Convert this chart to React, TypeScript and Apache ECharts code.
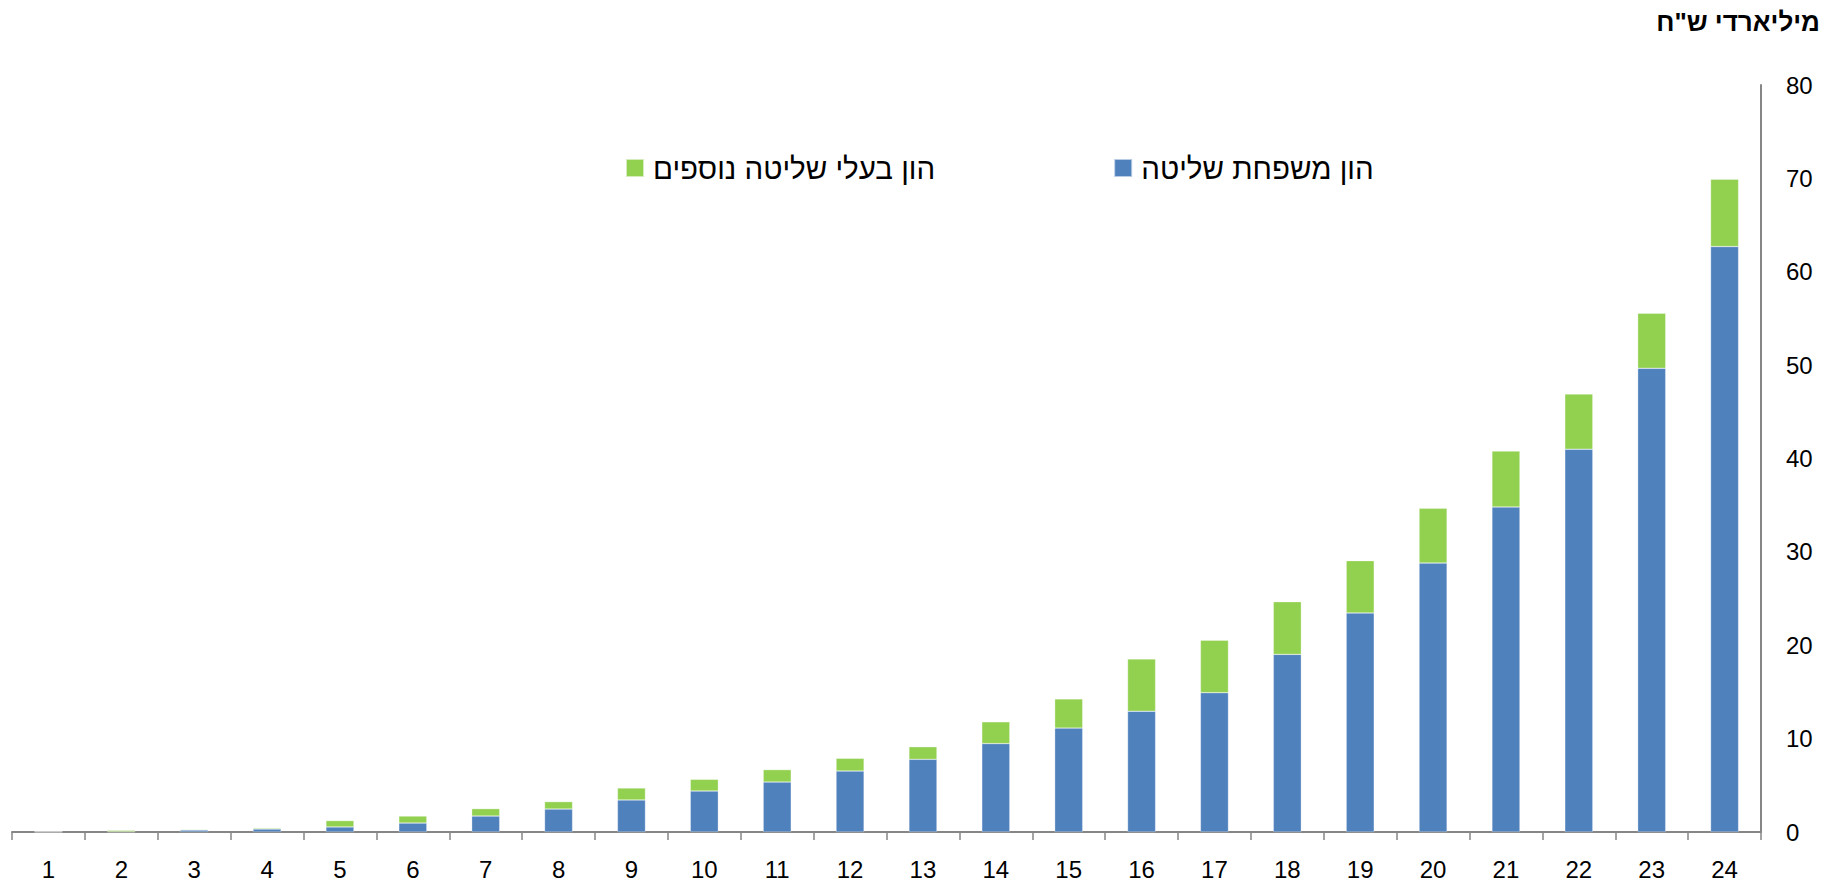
import React, { useEffect, useRef } from "react";
import * as echarts from "echarts";

const categories = ["1","2","3","4","5","6","7","8","9","10","11","12","13","14","15","16","17","18","19","20","21","22","23","24"];
const familyCapital = [0.02, 0.03, 0.21, 0.32, 0.54, 0.96, 1.71, 2.46, 3.43, 4.39, 5.35, 6.53, 7.78, 9.47, 11.13, 12.93, 14.92, 19.02, 23.46, 28.8, 34.81, 41.0, 49.66, 62.7];
const otherControllers = [0.02, 0.15, 0.07, 0.11, 0.68, 0.75, 0.79, 0.79, 1.28, 1.25, 1.33, 1.36, 1.35, 2.33, 3.12, 5.6, 5.61, 5.64, 5.6, 5.86, 5.98, 5.9, 5.9, 7.2];
const seriesNames = ["הון משפחת שליטה", "הון בעלי שליטה נוספים"];
const unitTitle = 'מיליארדי ש"ח';

const FONT = "'Liberation Sans', Arial, sans-serif";

export default function App() {
  const ref = useRef<HTMLDivElement>(null);
  useEffect(() => {
    document.body.style.margin = "0";
    const chart = echarts.init(ref.current!, null, { renderer: "svg" });
    chart.setOption({
      animation: false,
      textStyle: { fontFamily: FONT },
      title: {
        text: unitTitle,
        right: 1,
        top: 9,
        padding: 0,
        textStyle: { fontFamily: FONT, fontSize: 26, fontWeight: "bold", color: "#000" },
      },
      legend: {
        data: [seriesNames[1], seriesNames[0]],
        left: 625,
        top: 153,
        padding: 0,
        itemWidth: 18,
        itemHeight: 18,
        itemGap: 178,
        icon: "rect",
        textStyle: { fontFamily: FONT, fontSize: 29.5, color: "#000", padding: [0, 0, 0, 4] },
      },
      grid: { left: 12, right: 60, top: 85, bottom: 52, containLabel: false },
      xAxis: {
        type: "category",
        data: categories,
        axisLine: { lineStyle: { color: "#868686", width: 2 } },
        axisTick: { show: true, length: 8, lineStyle: { color: "#868686", width: 1.5 } },
        axisLabel: { fontFamily: FONT, fontSize: 24, color: "#000", margin: 25 },
      },
      yAxis: {
        type: "value",
        position: "right",
        min: 0,
        max: 80,
        interval: 10,
        splitLine: { show: false },
        axisLine: { show: true, lineStyle: { color: "#868686", width: 2 } },
        axisTick: { show: false },
        axisLabel: { fontFamily: FONT, fontSize: 24, color: "#000", margin: 25 },
      },
      series: [
        {
          name: seriesNames[0],
          type: "bar",
          stack: "total",
          data: familyCapital,
          barWidth: 28,
          itemStyle: { color: "#4F81BD", borderColor: "rgba(255,255,255,0.6)", borderWidth: 0.5 },
        },
        {
          name: seriesNames[1],
          type: "bar",
          stack: "total",
          data: otherControllers,
          barWidth: 28,
          itemStyle: { color: "#92D050", borderColor: "rgba(255,255,255,0.6)", borderWidth: 0.5 },
        },
      ],
    });
    return () => chart.dispose();
  }, []);
  return <div ref={ref} style={{ width: 1821, height: 884 }} />;
}
